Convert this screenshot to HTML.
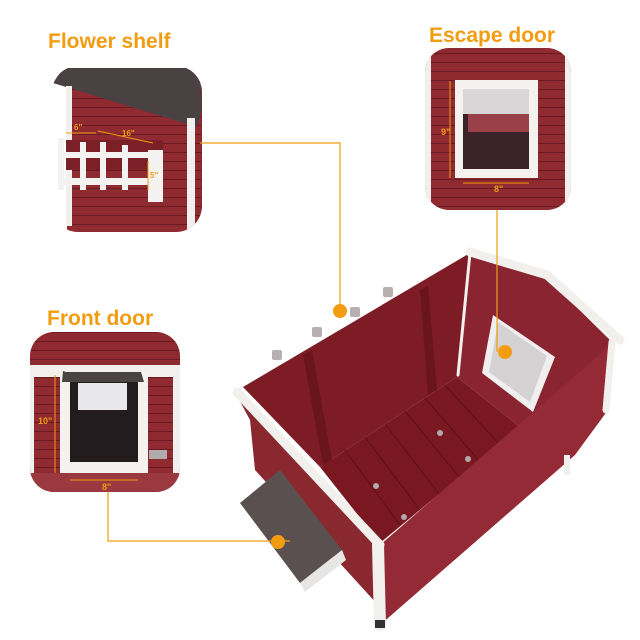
<!DOCTYPE html>
<html><head><meta charset="utf-8"><style>
html,body{margin:0;padding:0;background:#fff;width:640px;height:640px;overflow:hidden}
svg{display:block}
text{font-family:"Liberation Sans",Arial,sans-serif;font-weight:bold}
</style></head><body>
<svg width="640" height="640" viewBox="0 0 640 640" xmlns="http://www.w3.org/2000/svg">
<defs>
<clipPath id="c1"><rect x="52" y="66" width="150" height="166" rx="26"/></clipPath>
<clipPath id="c2"><rect x="425" y="48" width="146" height="162" rx="24"/></clipPath>
<clipPath id="c3"><rect x="30" y="332" width="150" height="160" rx="24"/></clipPath>
<pattern id="planks" width="10" height="9" patternUnits="userSpaceOnUse"><rect width="10" height="9" fill="#8e2a30"/><rect y="8" width="10" height="1" fill="#6a1a20"/></pattern>
</defs>

<!-- Titles -->
<text x="48" y="48" font-size="21" fill="#f29c12">Flower shelf</text>
<text x="429" y="42" font-size="21" fill="#f29c12">Escape door</text>
<text x="47" y="325" font-size="21" fill="#f29c12">Front door</text>

<!-- Flower shelf inset -->
<g clip-path="url(#c1)">
  <rect x="52" y="66" width="150" height="166" fill="#fff"/>
  <rect x="67" y="85" width="135" height="150" fill="url(#planks)"/>
  <polygon points="53,83 63,68 200,68 202,110 197,127" fill="#4a4242"/>
  <rect x="66" y="86" width="6" height="140" fill="#f2f0ee"/>
  <rect x="187" y="118" width="8" height="115" fill="#f2f0ee"/>
  <rect x="66" y="140" width="97" height="30" fill="#7a2026"/>
  <rect x="58" y="138" width="6" height="52" fill="#f4f2f0"/>
  <rect x="58" y="178" width="105" height="7" fill="#f4f2f0"/>
  <rect x="58" y="152" width="105" height="6" fill="#f4f2f0"/>
  <rect x="80" y="142" width="6" height="48" fill="#f4f2f0"/>
  <rect x="100" y="142" width="6" height="48" fill="#f4f2f0"/>
  <rect x="122" y="145" width="6" height="45" fill="#f4f2f0"/>
  <rect x="148" y="150" width="15" height="52" fill="#f4f2f0"/>
  <line x1="66" y1="133" x2="96" y2="133" stroke="#f29c12" stroke-width="1"/>
  <line x1="98" y1="131" x2="153" y2="143" stroke="#f29c12" stroke-width="1"/>
  <line x1="148" y1="161" x2="148" y2="190" stroke="#f29c12" stroke-width="1"/>
  <text x="74" y="130" font-size="8" font-weight="normal" fill="#f29c12">6"</text>
  <text x="122" y="136" font-size="8" font-weight="normal" fill="#f29c12">16"</text>
  <text x="150" y="178" font-size="8" font-weight="normal" fill="#f29c12">5"</text>
</g>

<!-- Escape door inset -->
<g clip-path="url(#c2)">
  <rect x="425" y="48" width="146" height="162" fill="url(#planks)"/>
  <rect x="425" y="48" width="6" height="162" fill="#f0eeee"/>
  <rect x="565" y="48" width="6" height="162" fill="#f0eeee"/>
  <rect x="455" y="80" width="83" height="98" fill="#f4f2ee"/>
  <rect x="463" y="89" width="66" height="80" fill="#3a2226"/>
  <rect x="463" y="89" width="66" height="25" fill="#d8d6d6"/>
  <rect x="468" y="114" width="61" height="18" fill="#9a4048"/>
  <line x1="450" y1="81" x2="450" y2="178" stroke="#f29c12" stroke-width="1"/>
  <line x1="463" y1="183" x2="529" y2="183" stroke="#f29c12" stroke-width="1"/>
  <text x="441" y="135" font-size="9" font-weight="normal" fill="#f29c12">9"</text>
  <text x="494" y="192" font-size="9" font-weight="normal" fill="#f29c12">8"</text>
</g>

<!-- Front door inset -->
<g clip-path="url(#c3)">
  <rect x="30" y="332" width="150" height="160" fill="url(#planks)"/>
  <rect x="30" y="365" width="150" height="12" fill="#f2f0ec"/>
  <rect x="30" y="365" width="4" height="110" fill="#f2f0ec"/>
  <rect x="173" y="365" width="7" height="110" fill="#f2f0ec"/>
  <rect x="60" y="372" width="88" height="101" fill="#f4f2ee"/>
  <rect x="70" y="382" width="68" height="80" fill="#221c1e"/>
  <rect x="78" y="383" width="49" height="27" fill="#e8e8ea"/>
  <polygon points="63,371 66,372 141,372 144,382 62,382" fill="#4a4444"/>
  <rect x="149" y="450" width="18" height="9" fill="#b0acac"/>
  <rect x="30" y="473" width="150" height="19" fill="#9a3a40"/>
  <line x1="55" y1="375" x2="55" y2="473" stroke="#f29c12" stroke-width="1"/>
  <line x1="70" y1="480" x2="138" y2="480" stroke="#f29c12" stroke-width="1"/>
  <text x="38" y="424" font-size="9" font-weight="normal" fill="#f29c12">10"</text>
  <text x="102" y="490" font-size="9" font-weight="normal" fill="#f29c12">8"</text>
</g>

<!-- Main house -->
<g>
  <!-- stubs -->
  <g fill="#b8b0b0"><rect x="272" y="350" width="10" height="10" rx="2"/><rect x="312" y="327" width="10" height="10" rx="2"/><rect x="350" y="307" width="10" height="10" rx="2"/><rect x="383" y="287" width="10" height="10" rx="2"/></g>
  <!-- left exterior face -->
  <polygon points="235,392 380,545 378,605 255,470 250,420" fill="#8a2830"/>
  <!-- back-left inner wall -->
  <polygon points="243,387 470,253 457,377 320,467" fill="#7e1c26"/>
  <polygon points="303,355 312,350 332,460 323,465" fill="#6a141c"/>
  <polygon points="420,290 428,286 437,390 428,395" fill="#6a141c"/>
  <!-- back-right inner wall -->
  <polygon points="470,253 547,278 613,343 520,427 457,377" fill="#8a2430"/>
  <!-- door -->
  <polygon points="493,315 555,357 533,412 482,373" fill="#f0eeee"/>
  <polygon points="498,322 547,356 530,402 489,372" fill="#d4d2d2"/>
  <!-- floor -->
  <polygon points="320,467 457,377 520,427 380,543" fill="#7a1822"/>
  <g stroke="#5a1018" stroke-width="1">
    <line x1="345" y1="450" x2="400" y2="525"/><line x1="365" y1="437" x2="420" y2="510"/>
    <line x1="385" y1="424" x2="440" y2="495"/><line x1="405" y1="411" x2="460" y2="478"/>
    <line x1="425" y1="398" x2="480" y2="462"/><line x1="445" y1="385" x2="500" y2="445"/>
  </g>
  <g fill="#b0a8aa"><circle cx="376" cy="486" r="3"/><circle cx="404" cy="517" r="3"/><circle cx="440" cy="433" r="3"/><circle cx="468" cy="459" r="3"/></g>
  <!-- right exterior wall -->
  <polygon points="380,545 613,343 608,410 575,455 380,625" fill="#942a36"/>
  <rect x="564" y="455" width="6" height="20" fill="#f2f0ee"/>
  <!-- ramp -->
  <polygon points="240,503 280,470 342,550 300,583" fill="#5a5050"/>
  <polygon points="300,583 342,550 346,560 305,592" fill="#e8e6e4"/>
  <!-- white trim -->
  <g stroke="#f2f0ec" stroke-linecap="round" fill="none">
    <line x1="237" y1="392" x2="380" y2="545" stroke-width="9"/>
    <line x1="378" y1="545" x2="380" y2="625" stroke-width="12"/>
    <polyline points="470,252 547,275 620,340" stroke-width="9"/>
    <line x1="612" y1="342" x2="606" y2="410" stroke-width="7"/>
    <line x1="470" y1="253" x2="458" y2="375" stroke-width="3"/>
  </g>
  <rect x="375" y="620" width="10" height="8" fill="#333"/>
</g>

<!-- connectors -->
<g stroke="#f29c12" stroke-width="1.2" fill="none">
  <polyline points="200,143 340,143 340,311"/>
  <line x1="497" y1="210" x2="497" y2="352"/>
  <polyline points="108,492 108,541 290,541"/>
</g>
<g fill="#f29c12"><circle cx="340" cy="311" r="7"/><circle cx="505" cy="352" r="7"/><circle cx="278" cy="542" r="7"/></g>
</svg>
</body></html>
